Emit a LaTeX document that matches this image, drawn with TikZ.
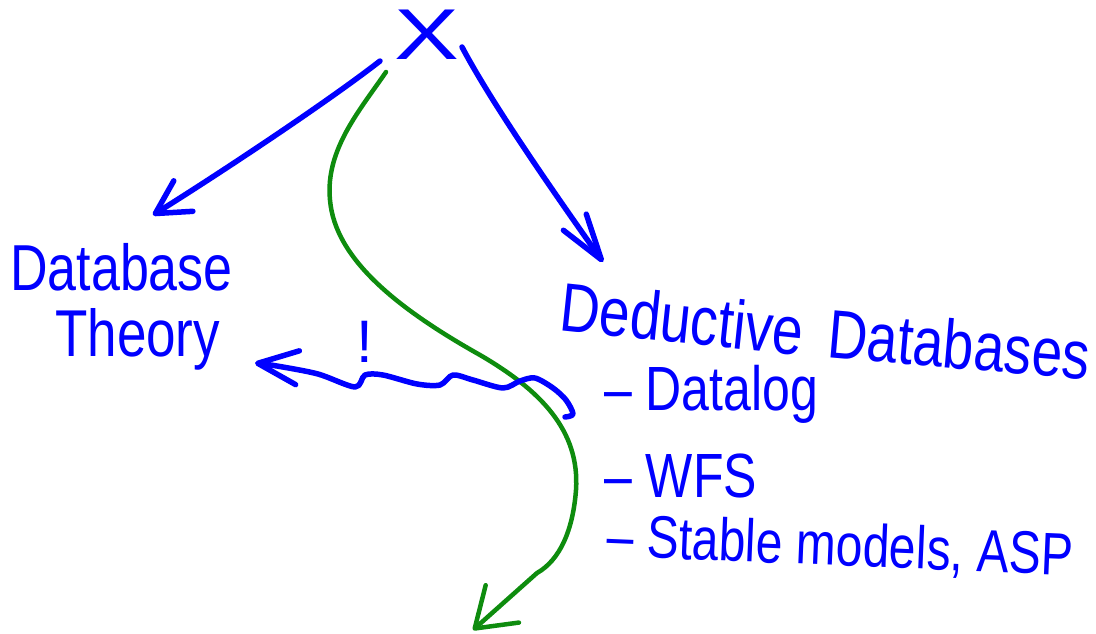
\documentclass[tikz,border=0pt]{standalone}
\usepackage{fontspec}
\setmainfont{Liberation Sans}
\usepackage{graphicx}
\usetikzlibrary{arrows.meta}
\definecolor{penblue}{RGB}{0,0,255}
\definecolor{pengreen}{RGB}{14,140,14}
\tikzset{
  pen/.style={draw=penblue, line width=5.5pt, line cap=round, line join=round},
  gpen/.style={draw=pengreen, line width=4.5pt, line cap=round, line join=round},
  hand/.style={text=penblue, inner sep=0pt, anchor=base west},
}
\newcommand{\tall}[1]{\scalebox{1}[1.25]{#1}}
\begin{document}
\begin{tikzpicture}[x=1pt, y=-1pt]
\useasboundingbox (0,0) rectangle (1096,634);
% texts
\node[hand, anchor=center, minimum width=80pt, minimum height=70pt,
      font=\fontsize{72}{72}\selectfont] (X) at (427,35) {\scalebox{1.35}[1]{X}};
\node[hand, font=\fontsize{52}{52}\selectfont] (db) at (10,290) {\tall{Database}};
\node[hand, font=\fontsize{53}{53}\selectfont] (th) at (55,356) {\tall{Theory}};
\node[hand, font=\fontsize{55}{55}\selectfont, rotate=-6] (dd) at (558,330) {\tall{Deductive}};
\node[hand, font=\fontsize{55}{55}\selectfont, rotate=-5] (dd2) at (826,357) {\tall{Databases}};
\node[hand, font=\fontsize{50}{50}\selectfont] (dl) at (604,410) {\tall{– Datalog}};
\node[hand, font=\fontsize{50}{50}\selectfont] (wfs) at (604,497) {\tall{– WFS}};
\node[hand, font=\fontsize{48}{48}\selectfont, rotate=-2.4] (sm) at (606,556) {\tall{– Stable models, ASP}};
\node[hand, font=\fontsize{60}{60}\selectfont] (ex) at (356,362) {!};
\coordinate (gEnd) at (473,630);
% connectors
\draw[pen, -{Straight Barb[round,length=33pt,width=36pt]}]
  ([shift={(-47,26)}]X.center) .. controls (330,100) and (225,170) .. ([shift={(143,-75)}]db.base west);
\draw[pen, -{Straight Barb[round,length=46pt,width=28pt]}]
  ([shift={(35,12)}]X.center) .. controls (490,100) and (545,180) .. ([shift={(45,-68)}]dd.base west);
\draw[gpen, -{Straight Barb[round,length=37pt,width=50pt]}]
  ([shift={(-41,37)}]X.center) .. controls (360,110) and (325,150) .. (330,200)
  .. controls (335,260) and (400,310) .. (480,355)
  .. controls (540,390) and (580,430) .. (576,490)
  .. controls (573,530) and (560,560) .. (537,573) -- (gEnd);
\draw[pen, -{Straight Barb[round,length=40pt,width=34pt]}]
  plot[smooth, tension=0.5] coordinates {([shift={(-39,7)}]dl.base west) (573,414) (566,400)
  (553,388) (535,378) (520,381) (503,388) (473,380) (453,375) (440,385) (417,384)
  (383,375) (365,375) (355,387) (318,374) (277,366) ([shift={(200,7)}]th.base west)};
\end{tikzpicture}
\end{document}
